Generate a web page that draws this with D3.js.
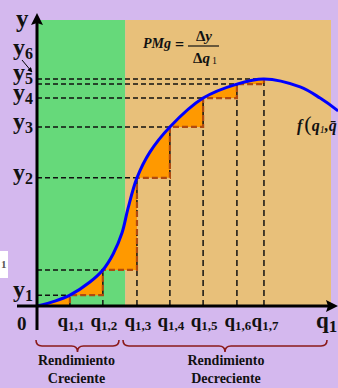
<!DOCTYPE html>
<html>
<head>
<meta charset="utf-8">
<script src="https://cdn.jsdelivr.net/npm/d3@7/dist/d3.min.js"></script>
<style>
  html, body { margin: 0; padding: 0; background: #d4b8ee; }
  svg { display: block; }
  text { font-family: "Liberation Serif", "Times New Roman", serif; font-weight: bold; fill: #111; }
</style>
</head>
<body>
<svg id="chart" width="338" height="388"></svg>
<script>
// Production function sampled along q1 (arbitrary units 0..10)
const curveQ = [0, 0.61, 1.12, 1.80, 2.24, 2.59, 2.89, 3.10, 3.40, 3.84, 4.52, 5.65, 6.80, 7.72, 8.95, 9.63, 10.24];
const curveY = [0, 0.17, 0.38, 0.84, 1.26, 1.82, 2.55, 3.43, 4.48, 5.38, 6.26, 7.27, 7.76, 7.94, 7.66, 7.27, 6.82];

// Equal input increments and the corresponding output levels
const qSteps = [1.12, 2.24, 3.40, 4.52, 5.65, 6.80, 7.72];
const ySteps = [0.38, 1.26, 4.48, 6.26, 7.27, 7.76, 7.94];
const qTickLabels = ["1,1", "1,2", "1,3", "1,4", "1,5", "1,6", "1,7"];
const yTickLabels = ["1", "", "2", "3", "4", "5", "6"];

// Phases of the returns
const phaseNames = [["Rendimiento", "Creciente"], ["Rendimiento", "Decreciente"]];
const phaseBounds = [[0, 3.0], [3.0, 10]];

const svg = d3.select("#chart");
const x = d3.scaleLinear().domain([0, 10]).range([37, 331]);
const y = d3.scaleLinear().domain([0, 10]).range([306, 20]);
const smooth = d3.curveCatmullRom.alpha(0.5);

// Background bands for the two phases
const bandColors = ["#66d97a", "#e8c07a"];
svg.selectAll("rect.band").data(phaseBounds).join("rect")
  .attr("class", "band")
  .attr("x", d => x(d[0]))
  .attr("y", y(10))
  .attr("width", d => x(d[1]) - x(d[0]))
  .attr("height", y(0) - y(10))
  .attr("fill", (d, i) => bandColors[i]);

// Small white note box at the left edge
svg.append("rect").attr("x", 0).attr("y", 251).attr("width", 8).attr("height", 27).attr("fill", "#fff");
svg.append("text").attr("x", 1).attr("y", 268).attr("font-size", 11).attr("font-weight", "normal")
  .style("fill", "#555").text("1");

const curvePts = curveQ.map((q, i) => [q, curveY[i]]);
const stepPts = [[0, 0]].concat(qSteps.map((q, i) => [q, ySteps[i]]));

// Orange wedges between the curve and the step function
const defs = svg.append("defs");
defs.append("clipPath").attr("id", "underCurve")
  .append("path")
  .attr("d", d3.area().curve(smooth).x(d => x(d[0])).y0(y(0)).y1(d => y(d[1]))(curvePts));

svg.append("path")
  .attr("clip-path", "url(#underCurve)")
  .attr("d", d3.area().curve(d3.curveStepAfter)
    .x(d => x(d[0])).y0(y(10)).y1(d => y(d[1]))(stepPts))
  .attr("fill", "#ff9900");

// Black dashed guides from the axes to each point on the curve
svg.selectAll("line.hguide").data(qSteps).join("line")
  .attr("class", "hguide")
  .attr("x1", x(0)).attr("x2", d => x(d))
  .attr("y1", (d, i) => y(ySteps[i])).attr("y2", (d, i) => y(ySteps[i]))
  .attr("stroke", "#111").attr("stroke-width", 1.5).attr("stroke-dasharray", "5,3");

svg.selectAll("line.vguide").data(qSteps).join("line")
  .attr("class", "vguide")
  .attr("x1", d => x(d)).attr("x2", d => x(d))
  .attr("y1", y(0)).attr("y2", (d, i) => y(ySteps[i]))
  .attr("stroke", "#111").attr("stroke-width", 1.5).attr("stroke-dasharray", "6,4");

// Dashed step outline (Δq, Δy)
svg.append("path")
  .attr("d", d3.line().curve(d3.curveStepAfter).x(d => x(d[0])).y(d => y(d[1]))(stepPts))
  .attr("fill", "none").attr("stroke", "#b04a10").attr("stroke-width", 2.2).attr("stroke-dasharray", "6,3");

// Production curve
svg.append("path")
  .attr("d", d3.line().curve(smooth).x(d => x(d[0])).y(d => y(d[1]))(curvePts))
  .attr("fill", "none").attr("stroke", "#0000ff").attr("stroke-width", 3);

// Axes with arrowheads
svg.append("line").attr("x1", 17).attr("x2", 330).attr("y1", y(0)).attr("y2", y(0))
  .attr("stroke", "#000").attr("stroke-width", 3);
svg.append("path").attr("d", `M338,${y(0)} L326,${y(0) - 6} L328,${y(0)} L326,${y(0) + 6} Z`).attr("fill", "#000");
svg.append("line").attr("x1", x(0)).attr("x2", x(0)).attr("y1", 22).attr("y2", 330)
  .attr("stroke", "#000").attr("stroke-width", 3);
svg.append("path").attr("d", `M${x(0)},13 L${x(0) - 6},25 L${x(0)},23 L${x(0) + 6},25 Z`).attr("fill", "#000");

// Axis titles
svg.append("text").attr("x", 16).attr("y", 27).attr("font-size", 25).text("y");
svg.append("text").attr("x", 17).attr("y", 330).attr("font-size", 19).text("0");
const q1Title = svg.append("text").attr("x", 316).attr("y", 328).attr("font-size", 23);
q1Title.append("tspan").text("q");
q1Title.append("tspan").attr("font-size", 17).attr("dy", 4).text("1");

// q1,i tick labels
qSteps.forEach((q, i) => {
  const t = svg.append("text").attr("x", x(q) + 1).attr("y", 327).attr("text-anchor", "middle").attr("font-size", 19);
  t.append("tspan").text("q");
  t.append("tspan").attr("font-size", 13).attr("dy", 3).text(qTickLabels[i]);
});

// y_i tick labels
yTickLabels.forEach((lab, i) => {
  if (!lab || lab === "6") return;
  const t = svg.append("text").attr("x", 13).attr("y", y(ySteps[i]) + (lab === "5" ? -4 : 2)).attr("font-size", 24);
  t.append("tspan").text("y");
  t.append("tspan").attr("font-size", 16).attr("dy", 4).text(lab);
});
// y6 label with a pointer to its level
const y6 = svg.append("text").attr("x", 13).attr("y", 55).attr("font-size", 24);
y6.append("tspan").text("y");
y6.append("tspan").attr("font-size", 16).attr("dy", 4).text(yTickLabels[6]);
defs.append("marker").attr("id", "tip").attr("viewBox", "0 0 10 10").attr("refX", 9).attr("refY", 5)
  .attr("markerWidth", 5).attr("markerHeight", 5).attr("orient", "auto")
  .append("path").attr("d", "M0,0 L10,5 L0,10 Z").attr("fill", "#000");
svg.append("line").attr("x1", 22).attr("y1", 60).attr("x2", 32).attr("y2", 72)
  .attr("stroke", "#000").attr("stroke-width", 1).attr("marker-end", "url(#tip)");

// Marginal product formula
const pm = svg.append("text").attr("x", 143).attr("y", 48).attr("font-size", 14).attr("font-style", "italic");
pm.text("PMg");
svg.append("text").attr("x", 175).attr("y", 50).attr("font-size", 16).text("=");
const num = svg.append("text").attr("x", 204).attr("y", 41).attr("font-size", 15).attr("text-anchor", "middle");
num.append("tspan").text("Δ");
num.append("tspan").attr("font-style", "italic").text("y");
svg.append("line").attr("x1", 188).attr("x2", 219).attr("y1", 46).attr("y2", 46).attr("stroke", "#111").attr("stroke-width", 1.2);
const den = svg.append("text").attr("x", 193).attr("y", 63).attr("font-size", 15);
den.append("tspan").text("Δ");
den.append("tspan").attr("font-style", "italic").text("q");
den.append("tspan").attr("font-size", 10).attr("font-weight", "normal").attr("dx", 2).attr("dy", 1).text("1");

// Function label
const fl = svg.append("text").attr("x", 297).attr("y", 131).attr("font-size", 16).attr("font-style", "italic");
fl.append("tspan").text("f");
fl.append("tspan").attr("font-style", "normal").attr("font-weight", "normal").attr("font-size", 22).attr("dx", 2).text("(");
fl.append("tspan").text("q");
fl.append("tspan").attr("font-size", 10).attr("font-weight", "normal").attr("dy", 2).text("1");
fl.append("tspan").attr("dy", -2).text(",");
fl.append("tspan").text("q̄");

// Braces under the axis marking each phase
function brace(x1, x2) {
  const xm = (x1 + x2) / 2, t = 340, m = 346, b = 352, r = 6;
  return `M${x1},${t} Q${x1},${m} ${x1 + r},${m} L${xm - r},${m} Q${xm},${m} ${xm},${b} ` +
         `Q${xm},${m} ${xm + r},${m} L${x2 - r},${m} Q${x2},${m} ${x2},${t}`;
}
const braceX = [[36, 119], [123, 327]];
braceX.forEach((bx, i) => {
  svg.append("path").attr("d", brace(bx[0], bx[1])).attr("fill", "none")
    .attr("stroke", "#8b1a1a").attr("stroke-width", 1.6);
  const cx = (bx[0] + bx[1]) / 2 + (i === 0 ? -1 : 1);
  phaseNames[i].forEach((line, j) => {
    svg.append("text").attr("x", cx).attr("y", 365 + j * 18).attr("text-anchor", "middle")
      .attr("font-size", 14).text(line);
  });
});
</script>
</body>
</html>
